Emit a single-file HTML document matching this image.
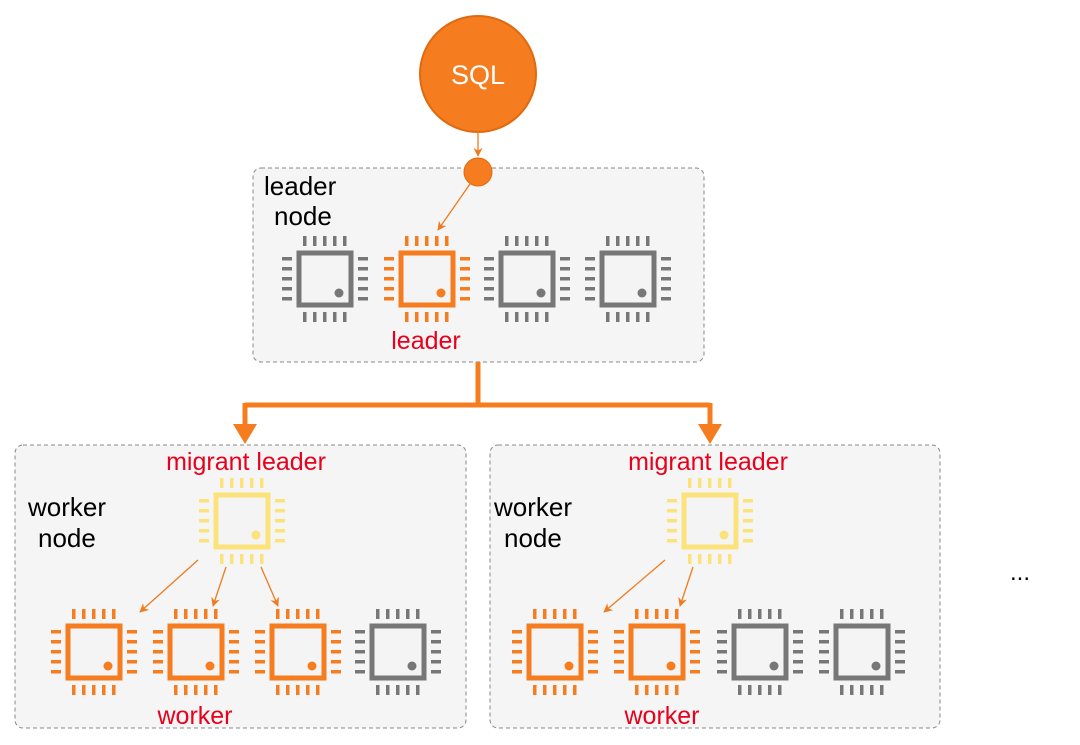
<!DOCTYPE html>
<html><head><style>body{margin:0;background:#fff}svg{display:block}</style></head><body>
<svg width="1080" height="745" viewBox="0 0 1080 745" xmlns="http://www.w3.org/2000/svg" font-family="Liberation Sans, sans-serif">
<defs>
<g id="chip">
<rect x="-26" y="-26" width="52" height="52" fill="#f4f4f4" stroke="currentColor" stroke-width="5"/>
<circle cx="14" cy="14" r="4.5" fill="currentColor"/>
<g fill="currentColor">
<rect x="-22" y="-43" width="3.5" height="10"/><rect x="-12" y="-43" width="3.5" height="10"/><rect x="-2" y="-43" width="3.5" height="10"/><rect x="8" y="-43" width="3.5" height="10"/><rect x="18" y="-43" width="3.5" height="10"/>
<rect x="-22" y="33" width="3.5" height="10"/><rect x="-12" y="33" width="3.5" height="10"/><rect x="-2" y="33" width="3.5" height="10"/><rect x="8" y="33" width="3.5" height="10"/><rect x="18" y="33" width="3.5" height="10"/>
<rect x="-43" y="-22" width="10" height="3.5"/><rect x="-43" y="-12" width="10" height="3.5"/><rect x="-43" y="-2" width="10" height="3.5"/><rect x="-43" y="8" width="10" height="3.5"/><rect x="-43" y="18" width="10" height="3.5"/>
<rect x="33" y="-22" width="10" height="3.5"/><rect x="33" y="-12" width="10" height="3.5"/><rect x="33" y="-2" width="10" height="3.5"/><rect x="33" y="8" width="10" height="3.5"/><rect x="33" y="18" width="10" height="3.5"/>
</g>
</g>
<marker id="a" viewBox="0 0 10 10" refX="9" refY="5" markerWidth="7" markerHeight="7" orient="auto"><path d="M0,0L10,5L0,10L3,5z" fill="#f07a20"/></marker>
</defs>
<g fill="#f5f5f5" stroke="#888" stroke-dasharray="4,3" stroke-width="1">
<rect x="253" y="168" width="451" height="194" rx="8"/>
<rect x="15" y="445" width="451" height="283" rx="8"/>
<rect x="490" y="445" width="450" height="283" rx="8"/>
</g>
<circle cx="478" cy="74" r="58" fill="#f57c1f" stroke="#e06a10" stroke-width="2"/>
<text x="478" y="84" font-size="27" fill="#fff" text-anchor="middle">SQL</text>
<line x1="478" y1="132" x2="478" y2="156" stroke="#f07a20" stroke-width="1.3" marker-end="url(#a)"/>
<circle cx="478" cy="172" r="14" fill="#f57c1f" stroke="#e06a10"/>
<line x1="470" y1="184" x2="438" y2="230" stroke="#f07a20" stroke-width="1.3" marker-end="url(#a)"/>
<text x="264" y="195" font-size="26" fill="#000">leader</text>
<text x="274" y="225" font-size="26" fill="#000">node</text>
<use href="#chip" x="325" y="279" color="#777"/>
<use href="#chip" x="427" y="279" color="#f57c1f"/>
<use href="#chip" x="527" y="279" color="#777"/>
<use href="#chip" x="628" y="279" color="#777"/>
<text x="426" y="349" font-size="25" fill="#e8001c" text-anchor="middle">leader</text>
<path d="M478,362V405M245,405H710M245,403V428M710,403V428" stroke="#f57c1f" stroke-width="5" fill="none"/>
<path d="M233,424L245,444L257,424z M698,424L710,444L722,424z" fill="#f57c1f"/>
<text x="246" y="470" font-size="25" fill="#e8001c" text-anchor="middle">migrant leader</text>
<text x="708" y="470" font-size="25" fill="#e8001c" text-anchor="middle">migrant leader</text>
<text x="28" y="516" font-size="26">worker</text>
<text x="38" y="547" font-size="26">node</text>
<text x="494" y="516" font-size="26">worker</text>
<text x="504" y="547" font-size="26">node</text>
<use href="#chip" x="242" y="521" color="#fbe27a"/>
<use href="#chip" x="710" y="521" color="#fbe27a"/>
<g stroke="#f07a20" stroke-width="1.3" marker-end="url(#a)">
<line x1="198" y1="560" x2="140" y2="612"/>
<line x1="226" y1="567" x2="213" y2="606"/>
<line x1="261" y1="567" x2="278" y2="606"/>
<line x1="665" y1="560" x2="604" y2="612"/>
<line x1="693" y1="567" x2="680" y2="606"/>
</g>
<use href="#chip" x="94" y="652" color="#f57c1f"/>
<use href="#chip" x="196" y="652" color="#f57c1f"/>
<use href="#chip" x="298" y="652" color="#f57c1f"/>
<use href="#chip" x="398" y="652" color="#777"/>
<use href="#chip" x="555" y="652" color="#f57c1f"/>
<use href="#chip" x="657" y="652" color="#f57c1f"/>
<use href="#chip" x="760" y="652" color="#777"/>
<use href="#chip" x="862" y="652" color="#777"/>
<text x="195" y="724" font-size="25" fill="#e8001c" text-anchor="middle">worker</text>
<text x="662" y="724" font-size="25" fill="#e8001c" text-anchor="middle">worker</text>
<text x="1020" y="580" font-size="24" text-anchor="middle">...</text>
</svg>
</body></html>
